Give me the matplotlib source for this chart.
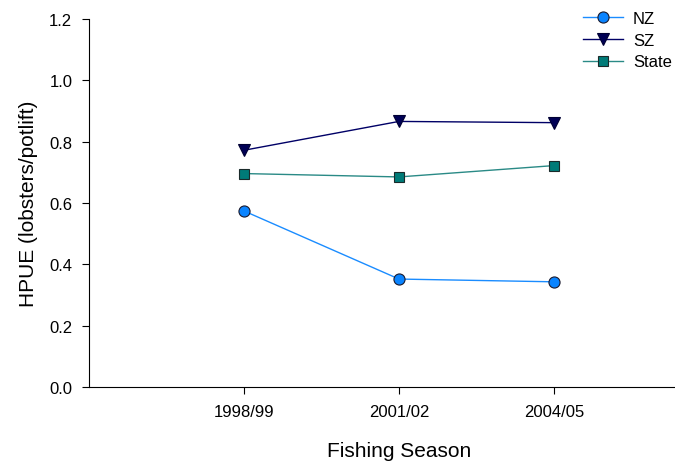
import matplotlib.pyplot as plt
import numpy as np

plt.rcParams['font.family'] = ['Liberation Sans', 'DejaVu Sans']

# Данные
seasons = ['1998/99', '2001/02', '2004/05']
nz = [0.574, 0.352, 0.343]
sz = [0.772, 0.866, 0.862]
state = [0.696, 0.685, 0.722]

x = np.arange(1, len(seasons) + 1)

fig = plt.figure(figsize=(6.75, 4.64), dpi=100)
# Ось X уходит за правый край картинки, как в оригинале
ax = fig.add_axes([89 / 675, 1 - 388 / 464, 620 / 675, 368 / 464])

ax.plot(x, nz, color='#1a8cff', lw=1, marker='o', ms=8,
        mfc='#0a84ff', mec='#1a1a2e', mew=0.8, label='NZ')
ax.plot(x, sz, color='#000066', lw=1, marker='v', ms=8.5,
        mfc='#000055', mec='#000033', mew=0.8, label='SZ')
ax.plot(x, state, color='#2a8a86', lw=1, marker='s', ms=7,
        mfc='#007b78', mec='#1a2a2a', mew=0.8, label='State')

ax.set_xlim(0, 4)
ax.set_ylim(0, 1.2)
ax.set_xticks(x)
ax.set_xticklabels(seasons)
ax.set_yticks(np.arange(0, 1.21, 0.2))
ax.set_yticklabels([f'{v:.1f}' for v in np.arange(0, 1.21, 0.2)])
ax.tick_params(labelsize=12, length=5, width=0.8, pad=7)

ax.spines['top'].set_visible(False)
ax.spines['right'].set_visible(False)

ax.set_xlabel('Fishing Season', fontsize=15, labelpad=16)
ax.set_ylabel('HPUE (lobsters/potlift)', fontsize=15, labelpad=8)

ax.legend(loc='upper left', bbox_to_anchor=(583 / 675, 1 - 12 / 464),
          bbox_transform=fig.transFigure, frameon=False, borderpad=0,
          borderaxespad=0, fontsize=12, handlelength=2.4,
          labelspacing=0.4, handletextpad=0.6)

fig.savefig('out.png', dpi=100)
